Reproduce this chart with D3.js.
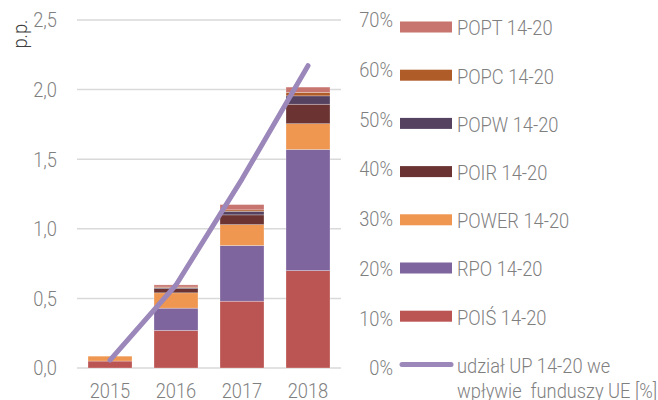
<!DOCTYPE html>
<html>
<head>
<meta charset="utf-8">
<script src="https://cdn.jsdelivr.net/npm/d3@7"></script>
<style>
  html, body { margin: 0; padding: 0; background: #fff; }
  svg text { font-family: "Roboto", "Liberation Sans", sans-serif; font-weight: 300; white-space: pre; }
</style>
</head>
<body>
<svg id="chart" width="658" height="400"></svg>
<script>
// Years on the category axis
const years = ["2015", "2016", "2017", "2018"];

// Contribution of each programme, percentage points (stacked bottom to top)
const poisValues  = [0.050, 0.270, 0.480, 0.700];
const rpoValues   = [0.000, 0.160, 0.400, 0.870];
const powerValues = [0.035, 0.110, 0.150, 0.185];
const poirValues  = [0.000, 0.030, 0.070, 0.140];
const popwValues  = [0.000, 0.007, 0.026, 0.060];
const popcValues  = [0.000, 0.005, 0.010, 0.025];
const poptValues  = [0.000, 0.015, 0.038, 0.038];

// Share of UP 14-20 in EU funds inflow, %
const shareValues = [1.6, 16.7, 38.0, 60.8];

// Axis tick labels
const leftTicks  = [0, 0.5, 1.0, 1.5, 2.0, 2.5];
const rightTicks = [0, 0.1, 0.2, 0.3, 0.4, 0.5, 0.6, 0.7];

const seriesNames  = ["POIŚ 14-20", "RPO 14-20", "POWER 14-20", "POIR 14-20", "POPW 14-20", "POPC 14-20", "POPT 14-20"];
const seriesValues = [poisValues, rpoValues, powerValues, poirValues, popwValues, popcValues, poptValues];
const seriesColors = ["#bb5553", "#7e659d", "#ef9650", "#6b3331", "#544260", "#b05c29", "#c8746f"];
const lineName = ["udział UP 14-20 we", "wpływie  funduszy UE [%]"];
const lineColor = "#9b87ba";
const textColor = "#7f7f7f";
const fontSize = 21;
const squeeze = 0.87; // condensed look for all labels

const svg = d3.select("#chart");

// Place a text at (px, py) with horizontally condensed glyphs
function place(sel, px, py) {
  sel.attr("transform", (d, i) => {
    const X = typeof px === "function" ? px(d, i) : px;
    const Y = typeof py === "function" ? py(d, i) : py;
    return `translate(${X},${Y}) scale(${squeeze},1)`;
  });
}

const x = d3.scaleBand().domain(years).range([77, 341]).paddingInner(1 / 3).paddingOuter(1 / 6);
const y = d3.scaleLinear().domain([0, 2.5]).range([368, 20]);
const y2 = d3.scaleLinear().domain([0, 0.7]).range([368, 20]);

// Gridlines
svg.append("g")
  .selectAll("line")
  .data(leftTicks)
  .join("line")
  .attr("x1", 77).attr("x2", 341)
  .attr("y1", d => y(d)).attr("y2", d => y(d))
  .attr("stroke", "#d9d9d9")
  .attr("stroke-width", 1.5);

// Left axis labels
const fmt = d3.format(".1f");
svg.append("g")
  .selectAll("text")
  .data(leftTicks)
  .join("text")
  .call(place, 57, d => y(d))
  .attr("dy", "0.35em")
  .attr("text-anchor", "end")
  .attr("font-size", fontSize)
  .attr("fill", textColor)
  .text(d => fmt(d).replace(".", ","));

// Left axis title
svg.append("text")
  .attr("transform", `translate(27,34) rotate(-90) scale(${squeeze},1)`)
  .attr("text-anchor", "middle")
  .attr("font-size", fontSize)
  .attr("fill", "#404040")
  .text("p.p.");

// Right axis labels
svg.append("g")
  .selectAll("text")
  .data(rightTicks)
  .join("text")
  .call(place, 393, d => y2(d))
  .attr("dy", "0.35em")
  .attr("text-anchor", "end")
  .attr("font-size", fontSize)
  .attr("fill", textColor)
  .text(d => Math.round(d * 100) + "%");

// Category labels
svg.append("g")
  .selectAll("text")
  .data(years)
  .join("text")
  .call(place, d => x(d) + x.bandwidth() / 2, 398)
  .attr("text-anchor", "middle")
  .attr("font-size", fontSize)
  .attr("fill", textColor)
  .text(d => d);

// Stacked bars
const table = years.map((yr, i) => {
  const row = { year: yr };
  seriesNames.forEach((n, k) => { row[n] = seriesValues[k][i]; });
  return row;
});
const stacked = d3.stack().keys(seriesNames)(table);

svg.append("g")
  .selectAll("g")
  .data(stacked)
  .join("g")
  .attr("fill", (d, i) => seriesColors[i])
  .selectAll("rect")
  .data(d => d)
  .join("rect")
  .attr("x", d => x(d.data.year))
  .attr("width", x.bandwidth())
  .attr("y", d => y(d[1]))
  .attr("height", d => y(d[0]) - y(d[1]))
  .attr("stroke", "rgba(255,255,255,0.45)")
  .attr("stroke-width", 0.6);

// Share line
const line = d3.line()
  .x((d, i) => x(years[i]) + x.bandwidth() / 2)
  .y(d => y2(d / 100));

svg.append("path")
  .datum(shareValues)
  .attr("d", line)
  .attr("fill", "none")
  .attr("stroke", lineColor)
  .attr("stroke-width", 5)
  .attr("stroke-linecap", "round")
  .attr("stroke-linejoin", "round");

// Legend
const legendOrder = [6, 5, 4, 3, 2, 1, 0];
const legend = svg.append("g");
legendOrder.forEach((k, r) => {
  const cy = 27 + r * 48.2;
  legend.append("rect")
    .attr("x", 400).attr("y", cy - 5.5)
    .attr("width", 52).attr("height", 11)
    .attr("fill", seriesColors[k]);
  legend.append("text")
    .call(place, 457, cy + 1)
    .attr("dy", "0.35em")
    .attr("font-size", fontSize)
    .attr("fill", textColor)
    .text(seriesNames[k]);
});
const ly = 364.5;
legend.append("line")
  .attr("x1", 402).attr("x2", 451)
  .attr("y1", ly).attr("y2", ly)
  .attr("stroke", lineColor)
  .attr("stroke-width", 5)
  .attr("stroke-linecap", "round");
lineName.forEach((t, j) => {
  legend.append("text")
    .call(place, 457, ly + 1 + j * 25)
    .attr("dy", "0.35em")
    .attr("font-size", fontSize)
    .attr("fill", textColor)
    .text(t);
});
</script>
</body>
</html>
